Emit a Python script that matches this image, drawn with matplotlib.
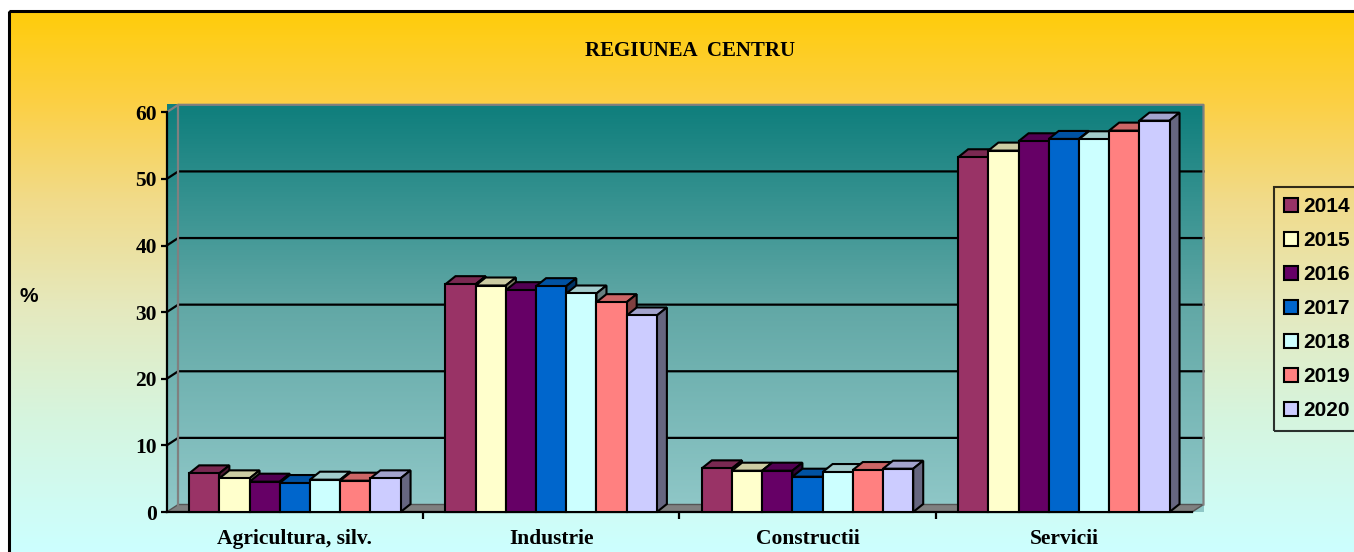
import numpy as np
import matplotlib
matplotlib.use("Agg")
import matplotlib.pyplot as plt
from matplotlib.colors import LinearSegmentedColormap, to_rgb
from matplotlib.patches import Polygon, Rectangle

# data (% of total)
categories = ["Agricultura, silv.", "Industrie", "Constructii", "Servicii"]
years = ["2014", "2015", "2016", "2017", "2018", "2019", "2020"]
v2014 = [5.8, 34.2, 6.55, 53.25]
v2015 = [5.05, 34.0, 6.2, 54.25]
v2016 = [4.55, 33.3, 6.2, 55.65]
v2017 = [4.35, 33.9, 5.3, 56.0]
v2018 = [4.85, 32.8, 6.0, 55.95]
v2019 = [4.7, 31.5, 6.3, 57.25]
v2020 = [5.05, 29.5, 6.5, 58.75]
values = [v2014, v2015, v2016, v2017, v2018, v2019, v2020]
colors = ["#993366", "#FFFFCC", "#660066", "#0066CC", "#CCFFFF", "#FF8080", "#CCCCFF"]

W, H = 1354, 552
fig = plt.figure(figsize=(W / 100, H / 100), dpi=100)

# background with yellow -> cyan gradient
bg = fig.add_axes([0, 0, 1, 1], zorder=-10)
bg.axis("off")
bg_cmap = LinearSegmentedColormap.from_list(
    "bg", [(0, "#FFCC0A"), (0.17, "#FCD045"), (0.35, "#F1DB8A"),
           (0.55, "#E5E9BE"), (0.75, "#D6F5DE"), (1, "#CCFFFF")])
grad = np.linspace(0, 1, 256).reshape(-1, 1)
bg.imshow(grad, cmap=bg_cmap, extent=(9, W, H, 11), aspect="auto")
bg.add_patch(Rectangle((9, 11), W, H, fill=False, edgecolor="black", lw=2.2))
bg.set_xlim(0, W)
bg.set_ylim(H, 0)

# main axes = front plane of the 3D chart
x0, x1, ytop, ybot = 166.7, 1192, 112.3, 512
ax = fig.add_axes([x0 / W, (H - ybot) / H, (x1 - x0) / W, (ybot - ytop) / H])
ax.set_xlim(-0.5, 3.5)
ax.set_ylim(0, 60)
ax.patch.set_visible(False)

px_x = (x1 - x0) / 4.0
px_y = (ybot - ytop) / 60.0
DX, DY = 11.5 / px_x, 7.5 / px_y      # wall depth
BDX, BDY = 10 / px_x, 8 / px_y        # bar depth

# walls (dark teal at the top, light at the bottom)
wall_cmap = LinearSegmentedColormap.from_list("wall", ["#0E7E7C", "#62A8A6", "#90C8C8"])
wall_shape = Polygon([(-0.5, 0), (-0.5, 60), (-0.5 + DX, 60 + DY), (3.5 + DX, 60 + DY),
                      (3.5 + DX, DY), (-0.5 + DX, DY)], closed=True,
                     transform=ax.transData, facecolor="none", edgecolor="none")
ax.add_patch(wall_shape)
im = ax.imshow(grad, cmap=wall_cmap, aspect="auto", origin="upper",
               extent=(-0.5, 3.5 + DX, 0, 60 + DY), zorder=0)
im.set_clip_on(False)
im.set_clip_path(wall_shape)

floor = Polygon([(-0.5, 0), (-0.5 + DX, DY), (3.5 + DX, DY), (3.5, 0)], closed=True,
                facecolor="#808080", edgecolor="#555555", lw=1, zorder=1, clip_on=False)
ax.add_patch(floor)

for v in range(10, 60, 10):
    ax.plot([-0.5, -0.5 + DX, 3.5 + DX], [v, v + DY, v + DY], color="black", lw=1.6,
            zorder=1, clip_on=False)
ax.plot([-0.5, -0.5 + DX, 3.5 + DX, 3.5 + DX], [60, 60 + DY, 60 + DY, DY],
        color="#808080", lw=1.6, zorder=1, clip_on=False)
ax.plot([-0.5 + DX, -0.5 + DX], [DY, 60 + DY], color="#808080", lw=1.6, zorder=1,
        clip_on=False)

# 3D bars
BW = 30.2 / px_x
xc = np.arange(len(categories))
handles = []
for i, (yr, vals, c) in enumerate(zip(years, values, colors)):
    xs = xc + (i - 3) * BW
    z = 3 + i * 0.1
    top_c = tuple(0.8 * np.array(to_rgb(c)))
    side_c = tuple(0.5 * np.array(to_rgb(c)))
    for x, h in zip(xs, vals):
        l, r = x - BW / 2, x + BW / 2
        ax.add_patch(Polygon([(l, h), (l + BDX, h + BDY), (r + BDX, h + BDY), (r, h)],
                             closed=True, facecolor=top_c, edgecolor="black", lw=1.5,
                             zorder=z, clip_on=False))
        ax.add_patch(Polygon([(r, 0), (r + BDX, BDY), (r + BDX, h + BDY), (r, h)],
                             closed=True, facecolor=side_c, edgecolor="black", lw=1.5,
                             zorder=z, clip_on=False))
    bars = ax.bar(xs, vals, width=BW, color=c, edgecolor="black", lw=1.5,
                  zorder=z + 0.05, label=yr, clip_on=False)
    handles.append(bars)

ax.set_xlim(-0.5, 3.5)
ax.set_ylim(0, 60)

# axes styling
for s in ["top", "right"]:
    ax.spines[s].set_visible(False)
for s in ["left", "bottom"]:
    ax.spines[s].set_linewidth(1.6)
    ax.spines[s].set_zorder(2.5)

tick_font = {"family": "Liberation Serif", "weight": "bold", "size": 15.5}
ax.set_yticks(range(0, 61, 10))
ax.set_yticklabels([str(v) for v in range(0, 61, 10)], fontdict=tick_font)
ax.tick_params(axis="y", direction="out", length=4, width=1.6, pad=3)
ax.set_xticks(xc)
ax.set_xticklabels(categories, fontdict=tick_font)
ax.tick_params(axis="x", which="major", length=0, pad=12.5)
ax.set_xticks([0.5, 1.5, 2.5], minor=True)
ax.tick_params(axis="x", which="minor", direction="out", length=5, width=1.6)

fig.text(690 / W, 1 - 51 / H, "REGIUNEA  CENTRU", ha="center", va="center",
         family="Liberation Serif", weight="bold", size=15)
fig.text(29 / W, 1 - 297 / H, "%", ha="center", va="center",
         family="Liberation Sans", weight="bold", size=15)

leg = fig.legend(handles, years, loc="upper left", bbox_to_anchor=(1274 / W, 1 - 187 / H),
                 prop={"family": "Liberation Sans", "weight": "bold", "size": 15},
                 frameon=True, fancybox=False, borderaxespad=0, borderpad=0.5,
                 handlelength=0.65, handleheight=0.65, handletextpad=0.25,
                 labelspacing=0.72)
leg.get_frame().set_edgecolor("black")
leg.get_frame().set_linewidth(1.5)
leg.get_frame().set_facecolor("none")

fig.savefig("out.png", dpi=100)
